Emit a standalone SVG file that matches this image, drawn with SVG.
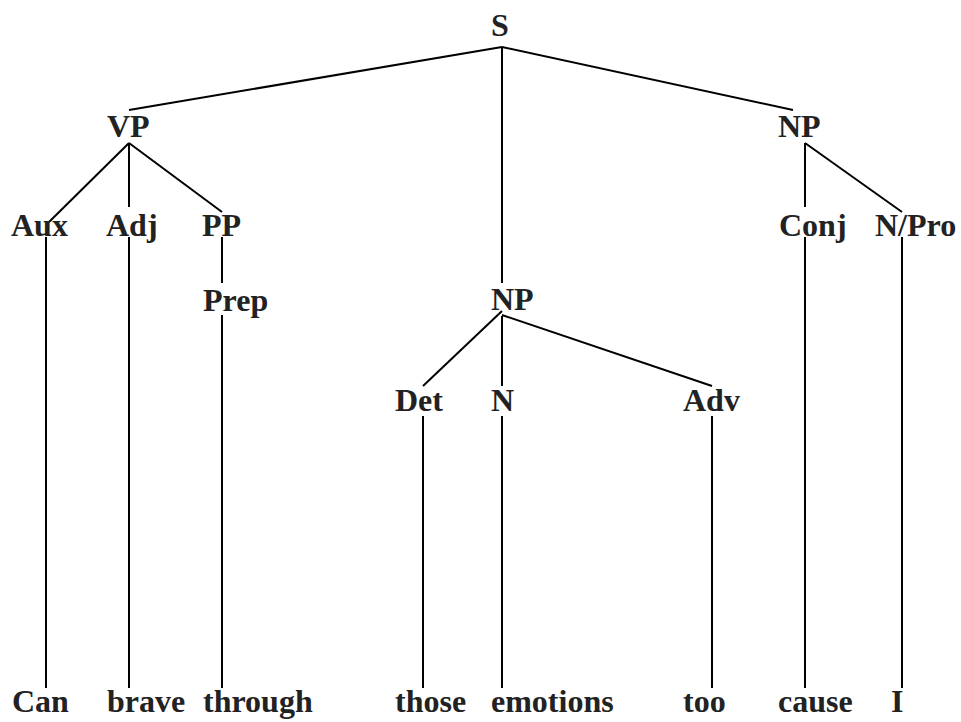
<svg xmlns="http://www.w3.org/2000/svg" width="961" height="722" viewBox="0 0 961 722">
<style>
text{font-family:"Liberation Serif","Times New Roman",serif;font-weight:bold;font-size:32px;fill:#222}
.c line{stroke:#000;stroke-width:2;fill:none}
</style>
<rect width="961" height="722" fill="#fff"/>
<g id="connectors" class="c">
<line x1="502" y1="47" x2="129" y2="110"/>
<line x1="502" y1="47" x2="502" y2="283"/>
<line x1="502" y1="47" x2="793" y2="110"/>
<line x1="129" y1="143" x2="49" y2="222"/>
<line x1="129" y1="143" x2="129" y2="207"/>
<line x1="129" y1="143" x2="222" y2="212"/>
<line x1="805" y1="143" x2="805" y2="207"/>
<line x1="805" y1="143" x2="902" y2="212"/>
<line x1="46" y1="237" x2="46" y2="688"/>
<line x1="129" y1="237" x2="129" y2="688"/>
<line x1="222" y1="237" x2="222" y2="283"/>
<line x1="222" y1="315" x2="222" y2="688"/>
<line x1="805" y1="237" x2="805" y2="688"/>
<line x1="902" y1="237" x2="902" y2="688"/>
<line x1="502" y1="311" x2="423" y2="386"/>
<line x1="502" y1="316" x2="502" y2="386"/>
<line x1="502" y1="315" x2="712" y2="386"/>
<line x1="423" y1="416" x2="423" y2="688"/>
<line x1="502" y1="416" x2="502" y2="688"/>
<line x1="712" y1="416" x2="712" y2="688"/>
</g>
<g id="S"><text x="491" y="36">S</text></g>
<g id="VP"><text x="107" y="137">VP</text></g>
<g id="NP1"><text x="778" y="137">NP</text></g>
<g id="Aux"><text x="11" y="236">Aux</text></g>
<g id="Adj"><text x="106" y="236">Adj</text></g>
<g id="PP"><text x="202" y="236">PP</text></g>
<g id="Conj"><text x="779" y="236">Conj</text></g>
<g id="NPro"><text x="875" y="236">N/Pro</text></g>
<g id="Prep"><text x="203" y="311">Prep</text></g>
<g id="NP2"><text x="491" y="310">NP</text></g>
<g id="Det"><text x="395" y="411">Det</text></g>
<g id="N"><text x="491" y="411">N</text></g>
<g id="Adv"><text x="683" y="411">Adv</text></g>
<g id="w-can"><text x="12" y="712">Can</text></g>
<g id="w-brave"><text x="107" y="712">brave</text></g>
<g id="w-through"><text x="203" y="712">through</text></g>
<g id="w-those"><text x="395" y="712">those</text></g>
<g id="w-emotions"><text x="491" y="712">emotions</text></g>
<g id="w-too"><text x="683" y="712">too</text></g>
<g id="w-cause"><text x="778" y="712">cause</text></g>
<g id="w-i"><text x="891" y="712">I</text></g>
</svg>
